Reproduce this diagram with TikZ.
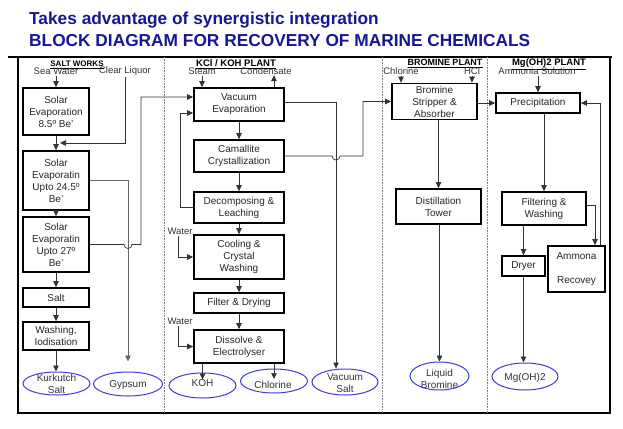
\documentclass[tikz,border=0pt]{standalone}
\usepackage{fontspec}
\setmainfont{Liberation Sans}
\usetikzlibrary{arrows.meta,shapes.geometric}
\definecolor{titleblue}{RGB}{22,22,150}
\definecolor{prodblue}{RGB}{60,60,215}

\begin{document}
\begin{tikzpicture}[x=1pt, y=-1pt,
    unit/.style={draw, line width=1.7pt, align=center, inner sep=1pt, text=black!85, font=\fontsize{10}{12}\selectfont},
    prod/.style={draw=prodblue, ellipse, line width=1pt, inner sep=0pt},
    prodtext/.style={align=center, inner sep=0pt, text=black!80, font=\fontsize{10}{12}\selectfont},
    feed/.style={inner sep=1pt, text=black!80, font=\fontsize{9.5}{11}\selectfont},
    head/.style={inner sep=0pt, anchor=base, font=\bfseries\fontsize{9.5}{10}\selectfont},
    title/.style={inner sep=0pt, text=titleblue, font=\bfseries\fontsize{17.3}{20}\selectfont},
    flow/.style={draw=black!80, line width=0.7pt, -{Triangle[length=6pt,width=5.5pt]}}]
\useasboundingbox (0,0) rectangle (623,428);

% Title
\node[title, anchor=base west] (title1) at (29,25) {Takes advantage of synergistic integration};
\node[title, anchor=base west] (title2) at (29,46) {BLOCK DIAGRAM FOR RECOVERY OF MARINE CHEMICALS};

% Frame and plant dividers
\draw[line width=2pt] (8,57) -- (612,57);
\draw[line width=1.4pt] (18,57) -- (18,413) -- (610,413) -- (610,57);
\foreach \x in {164,382,487}
    \draw[gray, densely dotted, line width=0.6pt] (\x,57) -- (\x,413);

% Salt works
\node[head, font=\bfseries\fontsize{8}{9}\selectfont] (hsalt) at (77,66.5) {\underline{SALT WORKS}};
\node[feed] (sea) at (56,71.5) {Sea Water};
\node[feed] (clear) at (125,71.5) {Clear Liquor};
\node[unit, minimum width=66pt, minimum height=47pt] (sw1) at (56,111.5) {Solar\\Evaporation\\8.5º Be'};
\node[unit, minimum width=66pt, minimum height=59pt] (sw2) at (56,180.5) {Solar\\Evaporatin\\Upto 24.5º\\Be'};
\node[unit, minimum width=66pt, minimum height=55pt] (sw3) at (56,244.5) {Solar\\Evaporatin\\Upto 27º\\Be'};
\node[unit, minimum width=66pt, minimum height=19pt] (salt) at (56,297.5) {Salt};
\node[unit, minimum width=66pt, minimum height=28pt] (wash) at (56,336) {Washing,\\Iodisation};
\node[prod, minimum width=67pt, minimum height=23pt] (kurk) at (56.5,383.5) {};
\node[prodtext] (kurktxt) at (56.5,384) {Kurkutch\\Salt};
\node[prod, minimum width=69pt, minimum height=24pt] (gyp) at (128,384) {};
\node[prodtext] (gyptxt) at (128,385) {Gypsum};
\coordinate (clin) at (60,143);
\coordinate (hopA) at (sw3.east -| gyp);

\draw[flow] (sea.south -| sw1) -- (sw1.north);
\draw[flow] (clear.south) |- (clin);
\draw[flow] (sw1) -- (sw2);
\draw[flow] (sw2) -- (sw3);
\draw[flow] (sw3) -- (salt);
\draw[flow] (salt) -- (wash);
\draw[flow] (wash) -- (wash |- kurk.north);
\draw[flow, draw=black!60] (sw2.east) -| ([yshift=10pt]gyp.north);

% KCl / KOH plant
\node[head] (hkcl) at (236,66.5) {\underline{KCl / KOH PLANT}};
\node[feed] (steam) at (202,71.5) {Steam};
\node[feed] (cond) at (266,71.5) {Condensate};
\node[unit, minimum width=90pt, minimum height=33pt] (ve) at (239,104.5) {Vacuum\\Evaporation};
\node[unit, minimum width=90pt, minimum height=32pt] (cam) at (239,156) {Camallite\\Crystallization};
\node[unit, minimum width=90pt, minimum height=31pt] (dec) at (239,207.5) {Decomposing \&\\Leaching};
\node[unit, minimum width=90pt, minimum height=44pt] (cool) at (239,257) {Cooling \&\\Crystal\\Washing};
\node[unit, minimum width=90pt, minimum height=20pt] (filt) at (239,303) {Filter \& Drying};
\node[unit, minimum width=90pt, minimum height=33pt] (diss) at (239,346.5) {Dissolve \&\\Electrolyser};
\node[feed] (wat1) at (180,231) {Water};
\node[feed] (wat2) at (180,321) {Water};
\node[prod, minimum width=67pt, minimum height=25pt] (koh) at (202.5,385.5) {};
\node[prodtext] (kohtxt) at (202.5,383) {KOH};
\node[prod, minimum width=67pt, minimum height=24pt] (chl) at (274,381) {};
\node[prodtext] (chltxt) at (273,385) {Chlorine};
\node[prod, minimum width=66pt, minimum height=26pt] (vs) at (345,382) {};
\node[prodtext] (vstxt) at (345,383.5) {Vacuum\\Salt};
\coordinate (vsin) at ([xshift=-9pt]vs.north);
\coordinate (hopB) at (vsin |- cam.east);

\draw[flow] (sw3.east) -- ([xshift=-4pt]hopA) arc[start angle=180, end angle=0, radius=4] -- ++(9,0) |- ([yshift=7.5pt]ve.west);
\draw[flow] (steam) -- (steam |- ve.north);
\draw[flow] ([xshift=35pt]ve.north) -- ++(0,-12);
\draw[flow] (ve) -- (cam);
\draw[flow] (cam) -- (dec);
\draw[flow] (dec) -- (cool);
\draw[flow] (cool) -- (filt);
\draw[flow] (filt) -- (diss);
\draw[flow] (dec.west) -- ++(-13,0) |- ([yshift=-8.5pt]ve.west);
\draw[flow] ([xshift=-2pt]wat1.south) |- (cool.west);
\draw[flow] ([xshift=-2pt]wat2.south) |- (diss.west);
\draw[flow] (diss.south -| koh) -- ([yshift=6pt]koh.center);
\draw[flow] (diss.south -| chl) -- ([yshift=2pt]chl.center);
\draw[flow] ([yshift=2.5pt]ve.east) -| (vsin);

% Bromine plant
\node[head, font=\bfseries\fontsize{9}{10}\selectfont] (hbr) at (445,66) {\underline{BROMINE PLANT}};
\node[feed] (chlin) at (401,71.5) {Chlorine};
\node[feed] (hcl) at (472,71.5) {HCl};
\node[unit, minimum width=85pt, minimum height=36pt] (br) at (434.5,101.5) {Bromine\\Stripper \&\\Absorber};
\node[unit, minimum width=85pt, minimum height=35pt] (dist) at (438.5,206.5) {Distillation\\Tower};
\node[prod, minimum width=59pt, minimum height=28pt] (lb) at (439.5,376) {};
\node[prodtext] (lbtxt) at (439.5,379) {Liquid\\Bromine};

\draw[flow] (cam.east) -- ([xshift=-4pt]hopB) arc[start angle=180, end angle=0, radius=4] -- ++(23,0) |- (br.west);
\draw[flow] (chlin) -- (chlin |- br.north);
\draw[flow] (hcl) -- (hcl |- br.north);
\draw[flow] (br.south -| dist) -- (dist.north);
\draw[flow] (dist.south -| lb) -- (lb.north);

% Mg(OH)2 plant
\node[head] (hmg) at (549,66) {\underline{Mg(OH)2 PLANT}};
\node[feed] (amsol) at (537,71.5) {Ammonia Solution};
\node[unit, minimum width=84pt, minimum height=20pt] (prec) at (538,103) {Precipitation};
\node[unit, minimum width=84pt, minimum height=33pt] (fw) at (544,208.5) {Filtering \&\\Washing};
\node[unit, minimum width=43pt, minimum height=20pt] (dry) at (523.5,266) {Dryer};
\node[unit, minimum width=57pt, minimum height=46pt] (amr) at (576.5,269) {Ammona\\[12pt]Recovey};
\node[prod, minimum width=66pt, minimum height=27pt] (mg) at (525,376.5) {};
\node[prodtext] (mgtxt) at (525,378) {Mg(OH)2};

\draw[flow] (br.east |- prec.west) -- (prec.west);
\draw[flow] (prec.north |- amsol.south) -- (prec.north);
\draw[flow] (fw.north |- prec.south) -- (fw.north);
\draw[flow] (fw.south -| dry) -- (dry.north);
\draw[flow] ([yshift=3pt]fw.east) -| ([xshift=18.5pt]amr.north);
\draw[flow] ([xshift=23.5pt]amr.north) |- (prec.east);
\draw[flow] (dry) -- (dry |- mg.north);
\end{tikzpicture}
\end{document}
